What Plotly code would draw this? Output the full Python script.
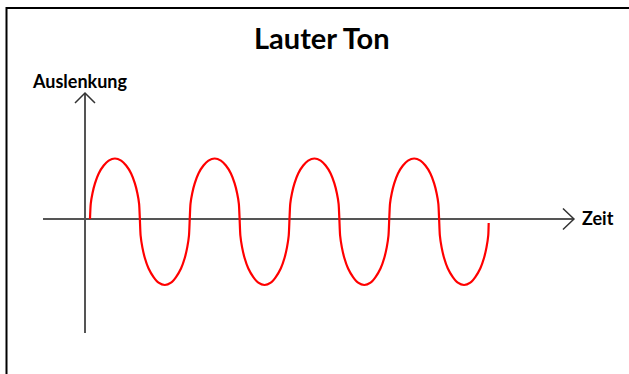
import plotly.graph_objects as go

W, H = 629, 374

# Wave data (time in periods, displacement in units)
time = [
    0.05, 0.0575, 0.075, 0.10, 0.1375, 0.1875, 0.2375, 0.30, 0.3625, 0.4125, 0.4625, 0.50, 0.525, 0.5425,
    0.55, 0.5575, 0.575, 0.60, 0.6375, 0.6875, 0.7375, 0.80, 0.8625, 0.9125, 0.9625, 1.00, 1.025, 1.0425,
    1.05, 1.0575, 1.075, 1.10, 1.1375, 1.1875, 1.2375, 1.30, 1.3625, 1.4125, 1.4625, 1.50, 1.525, 1.5425,
    1.55, 1.5575, 1.575, 1.60, 1.6375, 1.6875, 1.7375, 1.80, 1.8625, 1.9125, 1.9625, 2.00, 2.025, 2.0425,
    2.05, 2.0575, 2.075, 2.10, 2.1375, 2.1875, 2.2375, 2.30, 2.3625, 2.4125, 2.4625, 2.50, 2.525, 2.5425,
    2.55, 2.5575, 2.575, 2.60, 2.6375, 2.6875, 2.7375, 2.80, 2.8625, 2.9125, 2.9625, 3.00, 3.025, 3.0425,
    3.05, 3.0575, 3.075, 3.10, 3.1375, 3.1875, 3.2375, 3.30, 3.3625, 3.4125, 3.4625, 3.50, 3.525, 3.5425,
    3.55, 3.5575, 3.575, 3.60, 3.6375, 3.6875, 3.7375, 3.80, 3.8625, 3.9125, 3.9625, 4.00, 4.025, 4.0425,
    4.047,
]
auslenkung = [
    0.0, 0.23, 0.39, 0.54, 0.69, 0.81, 0.885, 0.917, 0.885, 0.81, 0.69, 0.54, 0.39, 0.23,
    0.0, -0.25, -0.43, -0.59, -0.75, -0.88, -0.965, -1.0, -0.965, -0.88, -0.75, -0.59, -0.43, -0.25,
    0.0, 0.23, 0.39, 0.54, 0.69, 0.81, 0.885, 0.917, 0.885, 0.81, 0.69, 0.54, 0.39, 0.23,
    0.0, -0.25, -0.43, -0.59, -0.75, -0.88, -0.965, -1.0, -0.965, -0.88, -0.75, -0.59, -0.43, -0.25,
    0.0, 0.23, 0.39, 0.54, 0.69, 0.81, 0.885, 0.917, 0.885, 0.81, 0.69, 0.54, 0.39, 0.23,
    0.0, -0.25, -0.43, -0.59, -0.75, -0.88, -0.965, -1.0, -0.965, -0.88, -0.75, -0.59, -0.43, -0.25,
    0.0, 0.23, 0.39, 0.54, 0.69, 0.81, 0.885, 0.917, 0.885, 0.81, 0.69, 0.54, 0.39, 0.23,
    0.0, -0.25, -0.43, -0.59, -0.75, -0.88, -0.965, -1.0, -0.965, -0.88, -0.75, -0.59, -0.43, -0.25,
    -0.06,
]

title_text = "Lauter Ton"
y_label = "Auslenkung"
x_label = "Zeit"

# axis extents (data units)
x_axis_min, x_axis_max = -0.421, 4.902
y_axis_min, y_axis_max = -1.727, 1.909

# plot ranges: 1 period = 99.75 px, 1 unit = 66 px; origin at px (85, 219)
px_per_t, px_per_y = 99.75, 66.0
x0_px, y0_px = 85.0, 219.0
x_range = [-x0_px / px_per_t, (W - x0_px) / px_per_t]
y_range = [-(H - y0_px) / px_per_y, y0_px / px_per_y]

fig = go.Figure()
fig.add_trace(go.Scatter(
    x=time, y=auslenkung, mode="lines",
    line=dict(color="#ff0000", width=2.2, shape="spline", smoothing=0.6),
    hoverinfo="skip", showlegend=False,
))

axis_col = "#555555"
ah_x = 11 / px_per_t
ah_y = 10.5 / px_per_y
shapes = [
    # x axis
    dict(type="line", xref="x", yref="y", x0=x_axis_min, x1=x_axis_max, y0=0, y1=0,
         line=dict(color=axis_col, width=2), layer="below"),
    dict(type="path", xref="x", yref="y",
         path=f"M {x_axis_max - ah_x} {ah_y} L {x_axis_max} 0 L {x_axis_max - ah_x} {-ah_y}",
         line=dict(color="#333333", width=1.5)),
    # y axis
    dict(type="line", xref="x", yref="y", x0=0, x1=0, y0=y_axis_min, y1=y_axis_max,
         line=dict(color=axis_col, width=2), layer="below"),
    dict(type="path", xref="x", yref="y",
         path=f"M {-10 / px_per_t} {y_axis_max - 10 / px_per_y} L 0 {y_axis_max} L {10 / px_per_t} {y_axis_max - 10 / px_per_y}",
         line=dict(color="#333333", width=1.5)),
    # frame
    dict(type="path", xref="paper", yref="paper",
         path=f"M {6.5 / W} -0.01 L {6.5 / W} {1 - 8 / H} L 1.01 {1 - 8 / H}",
         line=dict(color="#000000", width=2)),
]

annotations = [
    dict(text=f"<b>{title_text}</b>", x=322 / W, y=1 - 38 / H, xref="paper", yref="paper",
         showarrow=False, xanchor="center", yanchor="middle",
         font=dict(family="Lato", size=29, color="#000000")),
    dict(text=f"<b>{y_label}</b>", x=80 / W, y=1 - 81 / H, xref="paper", yref="paper",
         showarrow=False, xanchor="center", yanchor="middle",
         font=dict(family="Lato", size=18, color="#000000")),
    dict(text=f"<b>{x_label}</b>", x=580 / W, y=1 - 218 / H, xref="paper", yref="paper",
         showarrow=False, xanchor="left", yanchor="middle",
         font=dict(family="Lato", size=18, color="#000000")),
]

fig.update_layout(
    width=W, height=H, autosize=False,
    margin=dict(l=0, r=0, t=0, b=0, pad=0),
    paper_bgcolor="#ffffff", plot_bgcolor="#ffffff",
    xaxis=dict(range=x_range, visible=False, fixedrange=True),
    yaxis=dict(range=y_range, visible=False, fixedrange=True),
    shapes=shapes, annotations=annotations,
)

fig.write_html(
    "out.html",
    config={"displayModeBar": False},
    post_script="document.body.style.margin='0px';document.body.style.overflow='hidden';",
)
